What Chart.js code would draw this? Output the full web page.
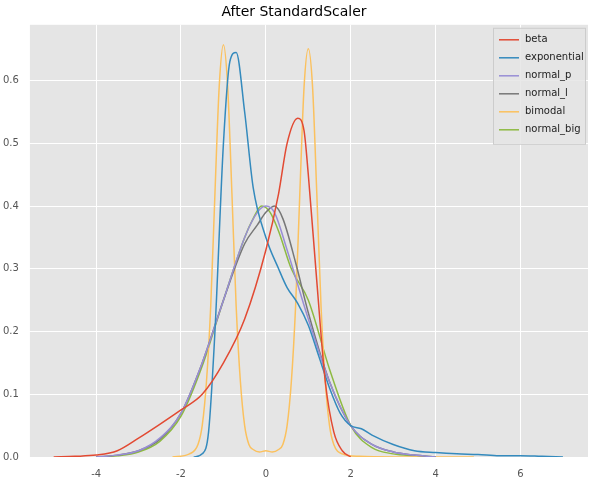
<!DOCTYPE html><html><head><script src="https://cdn.jsdelivr.net/npm/chart.js@4"></script>
<style>body{margin:0;background:#fff}#w{width:598px;height:483px}</style></head><body><div id="w"><canvas id="c"></canvas></div>
<script>
const seriesNames=["beta","exponential","normal_p","normal_l","bimodal","normal_big"];
const colors=["#E24A33","#348ABD","#988ED5","#777777","#FBC15E","#8EBA42"];
const betaX=[-5,-4.5,-4,-3.5,-3,-2.5,-2,-1.5,-1,-0.5,0,0.3,0.5,0.75,0.9,1.0,1.2,1.4,1.6,1.8,2];
const betaY=[0,0.001,0.003,0.01,0.03,0.052,0.075,0.1,0.15,0.22,0.33,0.42,0.5,0.54,0.52,0.45,0.28,0.12,0.04,0.01,0];
const expX=[-1.7,-1.5,-1.35,-1.2,-1.0,-0.85,-0.7,-0.5,-0.3,0,0.3,0.5,0.75,1,1.25,1.5,1.75,2,2.25,2.5,3,3.5,4,4.5,5,5.5,6,6.5,7];
const expY=[0,0.005,0.04,0.2,0.5,0.63,0.645,0.55,0.43,0.35,0.3,0.27,0.245,0.21,0.16,0.11,0.07,0.05,0.045,0.035,0.02,0.01,0.007,0.005,0.004,0.002,0.002,0.001,0];
const npX=[-4,-3.5,-3,-2.5,-2,-1.5,-1,-0.5,-0.2,0,0.2,0.5,1,1.5,2,2.5,3,3.5,4];
const npY=[0,0.003,0.01,0.03,0.07,0.15,0.25,0.35,0.39,0.40,0.39,0.33,0.22,0.12,0.05,0.02,0.008,0.003,0];
const nlX=[-4,-3.5,-3,-2.5,-2,-1.5,-1,-0.5,-0.2,0,0.2,0.4,0.7,1,1.5,2,2.5,3,3.5,4];
const nlY=[0,0.003,0.01,0.028,0.07,0.15,0.25,0.34,0.37,0.39,0.40,0.38,0.31,0.23,0.12,0.05,0.02,0.008,0.003,0];
const bmX=[-2.2,-1.8,-1.6,-1.5,-1.4,-1.3,-1.2,-1.1,-1.0,-0.9,-0.8,-0.7,-0.6,-0.5,-0.4,-0.3,-0.15,0,0.15,0.3,0.4,0.5,0.6,0.7,0.8,0.9,1.0,1.1,1.2,1.3,1.4,1.5,1.6,1.8,2.2,3,4,4.9];
const bmY=[0,0.005,0.02,0.05,0.12,0.24,0.42,0.59,0.657,0.59,0.42,0.24,0.12,0.05,0.02,0.012,0.008,0.01,0.008,0.012,0.02,0.05,0.12,0.24,0.42,0.59,0.651,0.59,0.42,0.24,0.12,0.05,0.02,0.005,0.001,0,0,0];
const nbX=[-4,-3.5,-3,-2.5,-2,-1.5,-1,-0.5,-0.3,-0.1,0.1,0.3,0.6,1,1.5,2,2.5,3,3.5,4];
const nbY=[0,0.002,0.008,0.025,0.065,0.145,0.25,0.35,0.38,0.40,0.39,0.36,0.3,0.25,0.14,0.05,0.015,0.005,0.002,0];
const xs=[betaX,expX,npX,nlX,bmX,nbX], ys=[betaY,expY,npY,nlY,bmY,nbY];
const bg={id:'bg',beforeDraw(c){const a=c.chartArea,x=c.ctx;x.save();x.fillStyle='#E5E5E5';x.fillRect(a.left,a.top,a.width,a.height);x.restore();},
afterDraw(c){const a=c.chartArea,x=c.ctx;x.save();const w=92,h=6*18+8,l=a.right-w-3,t=a.top+3;
x.fillStyle='rgba(229,229,229,0.85)';x.strokeStyle='#ccc';x.fillRect(l,t,w,h);x.strokeRect(l+0.5,t+0.5,w,h);
x.font='10px DejaVu Sans';x.textBaseline='middle';c.data.datasets.forEach((d,i)=>{const y=t+12+i*18;x.strokeStyle=d.borderColor;x.lineWidth=1.5;x.beginPath();x.moveTo(l+6,y);x.lineTo(l+26,y);x.stroke();x.fillStyle='#222';x.fillText(d.label,l+32,y);});x.restore();}};
new Chart(document.getElementById('c'),{type:'line',plugins:[bg],
data:{datasets:seriesNames.map((n,i)=>({label:n,data:xs[i].map((x,j)=>({x,y:ys[i][j]})),borderColor:colors[i],backgroundColor:colors[i],borderWidth:1.5,pointRadius:0,cubicInterpolationMode:'monotone'}))},
options:{responsive:true,maintainAspectRatio:false,animation:false,
layout:{padding:{right:10,top:2}},
plugins:{title:{display:true,text:'After StandardScaler',font:{size:14,family:'DejaVu Sans',weight:'normal'},color:'#000',padding:{top:2,bottom:4}},
legend:{display:false},tooltip:{enabled:false}},
scales:{x:{type:'linear',min:-5.56,max:7.59,afterBuildTicks(a){a.ticks=[-4,-2,0,2,4,6].map(v=>({value:v}));},grid:{color:'#fff',lineWidth:1},border:{display:false},ticks:{color:'#555',font:{size:10,family:'DejaVu Sans'}}},
y:{min:0,max:0.689,afterBuildTicks(a){a.ticks=[0,0.1,0.2,0.3,0.4,0.5,0.6].map(v=>({value:v}));},grid:{color:'#fff',lineWidth:1},border:{display:false},ticks:{color:'#555',font:{size:10,family:'DejaVu Sans'},callback:v=>v.toFixed(1)}}}}});
</script></body></html>
